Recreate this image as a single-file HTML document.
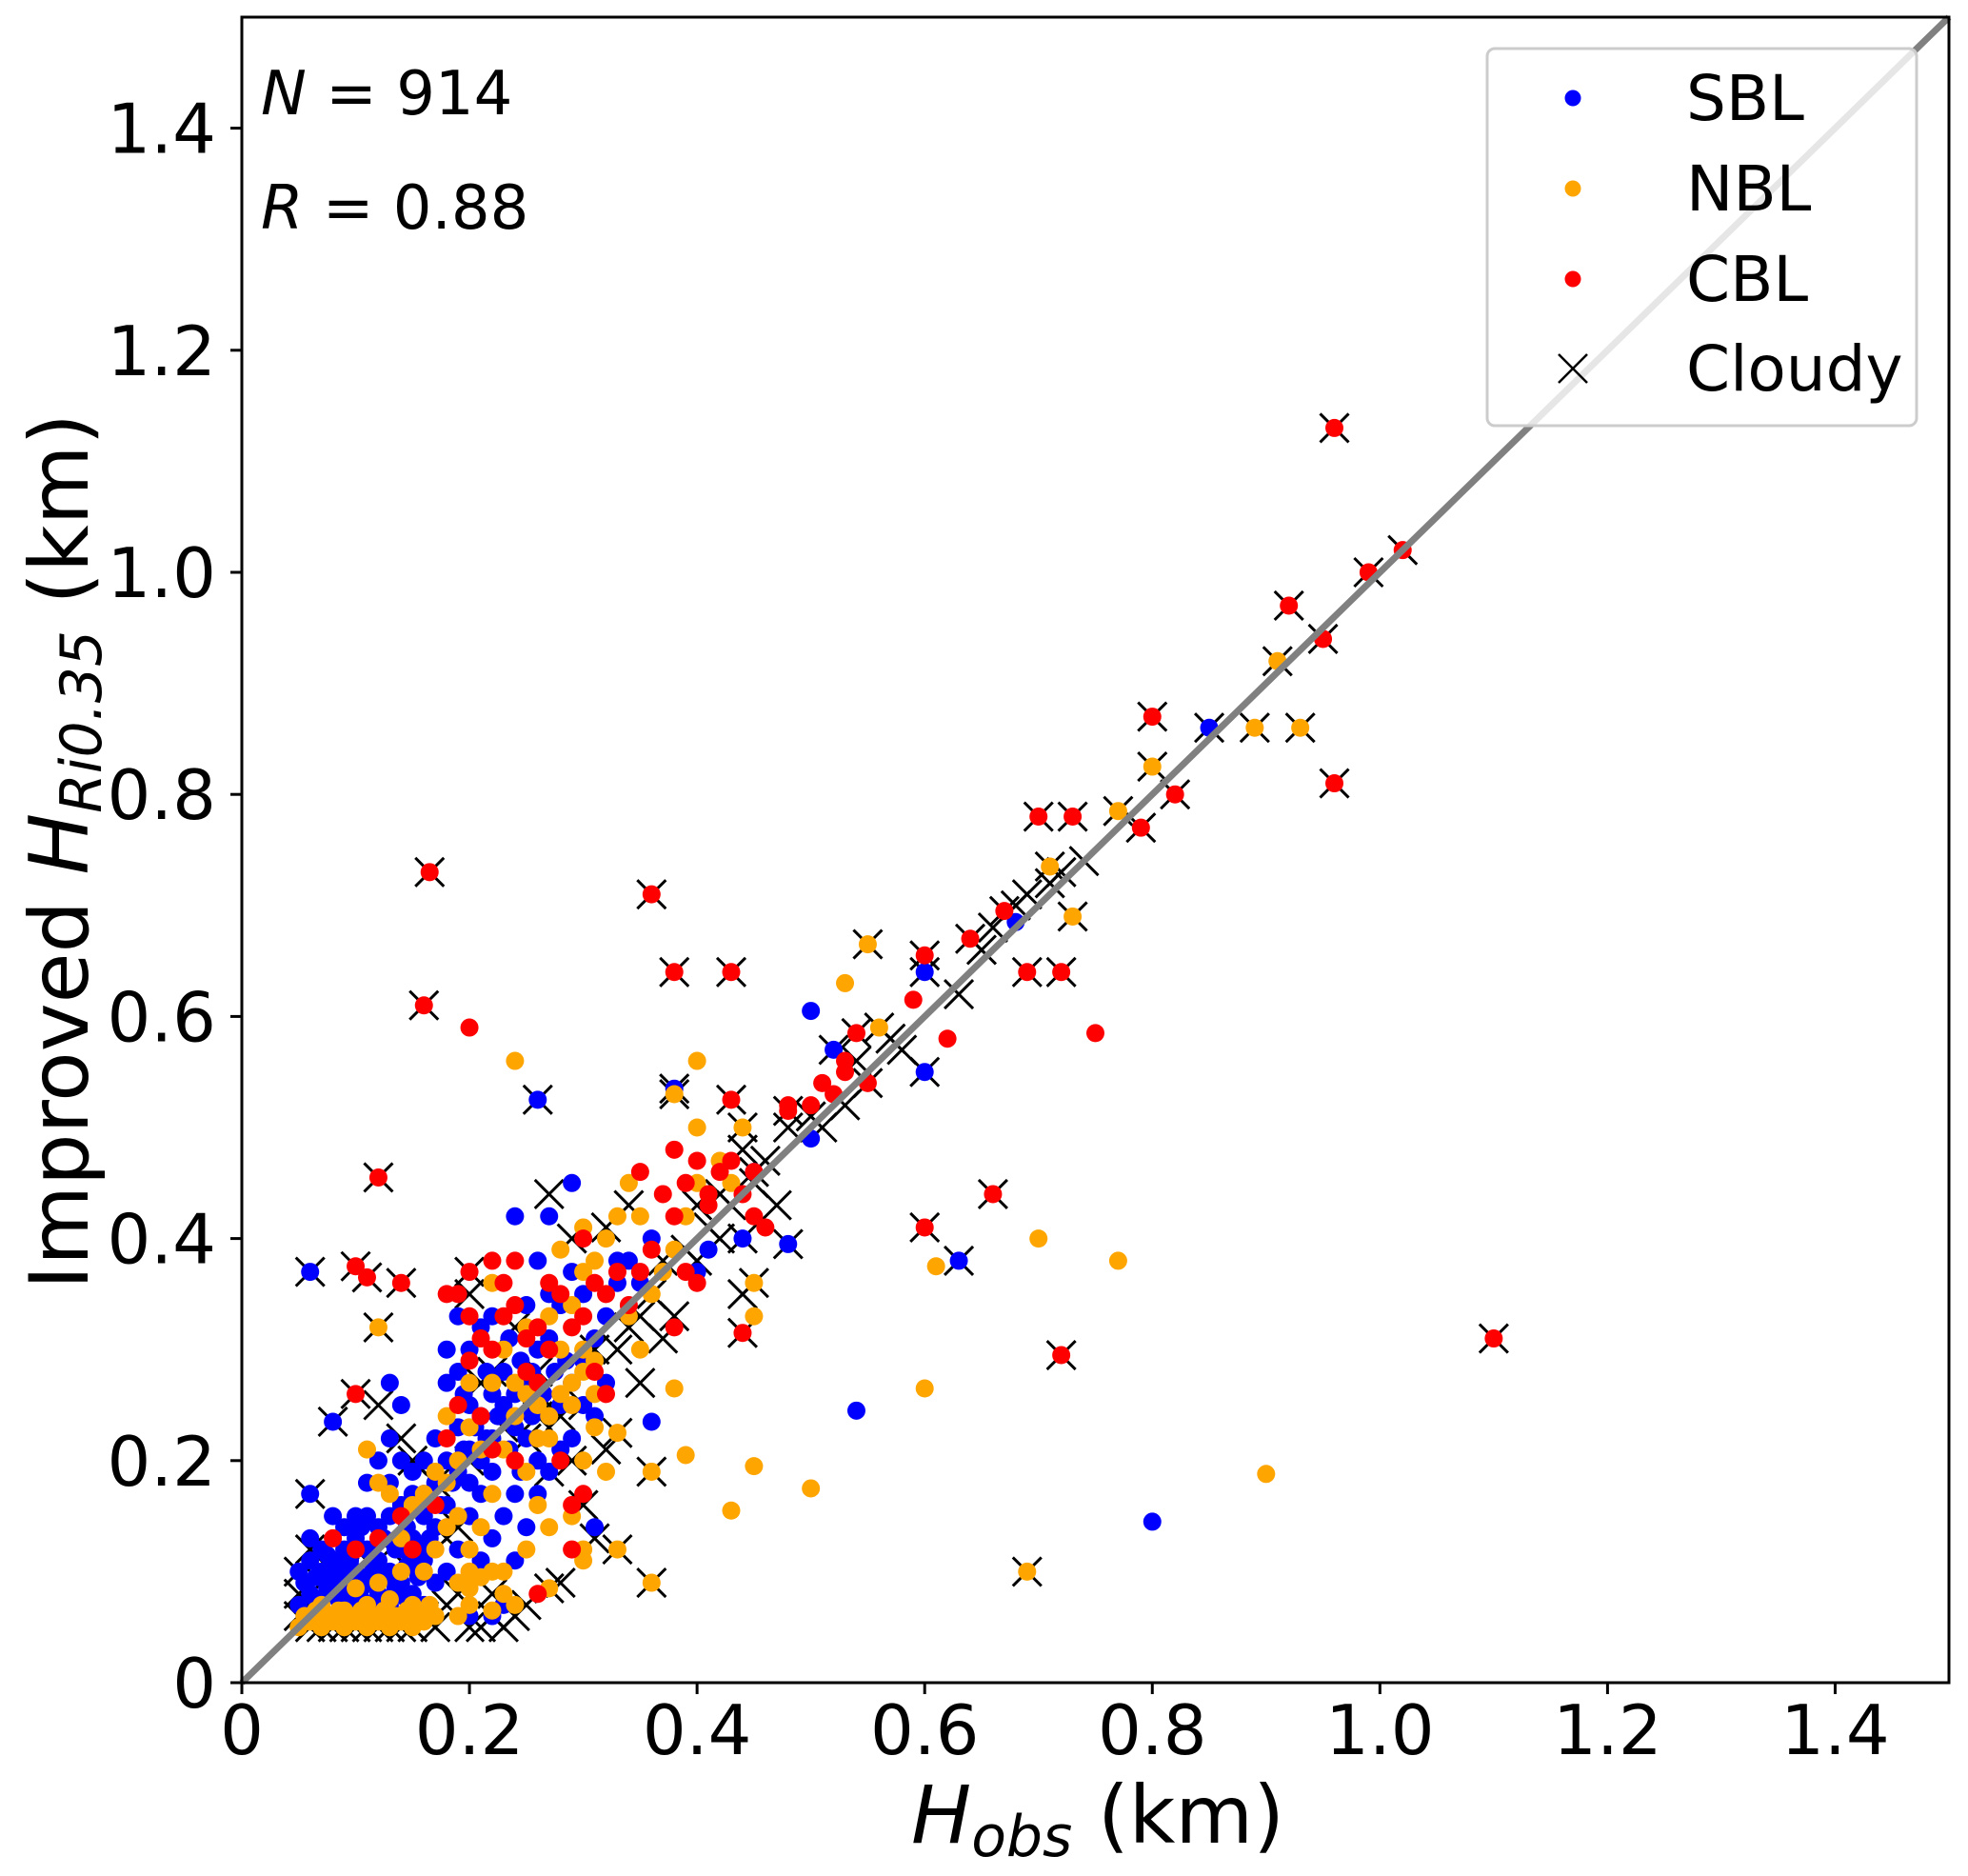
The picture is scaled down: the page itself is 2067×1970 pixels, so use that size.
<!DOCTYPE html>
<html><head><meta charset="utf-8"><style>
html,body{margin:0;padding:0;background:#fff}
svg{display:block}
text{font-family:"DejaVu Sans","Liberation Sans",sans-serif;fill:#000}
</style></head><body>
<svg id="chart" width="2067" height="1970" viewBox="0 0 2067 1970" xmlns="http://www.w3.org/2000/svg">
<rect x="0" y="0" width="2067" height="1970" fill="#fff"/>
<g id="cloudyLayer"></g>
<g id="dotLayer"></g>
<line id="oneToOne" stroke="#808080" stroke-width="7"/>
<rect x="254" y="18" width="1793" height="1749" fill="none" stroke="#000" stroke-width="3"/>
<g id="ticks"></g>
<text x="274" y="120" font-size="64"><tspan font-style="italic">N</tspan> = 914</text>
<text x="274" y="240" font-size="64"><tspan font-style="italic">R</tspan> = 0.88</text>
<text x="1153" y="1935" font-size="84" text-anchor="middle"><tspan font-style="italic">H</tspan><tspan font-style="italic" font-size="60" dy="14">obs</tspan><tspan dy="-14"> (km)</tspan></text>
<text transform="translate(92,894) rotate(-90)" font-size="86" text-anchor="middle">Improved <tspan font-style="italic">H</tspan><tspan font-style="italic" font-size="60" dy="14">Ri0.35</tspan><tspan dy="-14"> (km)</tspan></text>
<g>
<rect x="1562" y="51" width="451" height="396" rx="8" fill="#fff" fill-opacity="0.8" stroke="#ccc" stroke-width="3"/>
<circle cx="1652" cy="103" r="8.5" fill="#0000ff"/>
<text x="1771" y="126" font-size="66">SBL</text>
<circle cx="1652" cy="198" r="8.5" fill="#ffa500"/>
<text x="1771" y="221" font-size="66">NBL</text>
<circle cx="1652" cy="293" r="8.5" fill="#ff0000"/>
<text x="1771" y="316" font-size="66">CBL</text>
<path d="M1637,372 L1667,402 M1637,402 L1667,372" stroke="#000" stroke-width="2.5"/>
<text x="1771" y="410" font-size="66">Cloudy</text>
</g>
</svg>
<script>
const xTicks = [0,0.2,0.4,0.6,0.8,1.0,1.2,1.4];
const xTickLabels = ["0","0.2","0.4","0.6","0.8","1.0","1.2","1.4"];
const yTicks = [0,0.2,0.4,0.6,0.8,1.0,1.2,1.4];
const yTickLabels = ["0","0.2","0.4","0.6","0.8","1.0","1.2","1.4"];
const sblPoints = [[0.06,0.37],[0.06,0.17],[0.08,0.235],[0.26,0.525],[0.38,0.535],[0.5,0.605],[0.52,0.57],[0.6,0.64],[0.6,0.55],[0.85,0.86],[0.63,0.38],[0.48,0.395],[0.45,0.46],[0.44,0.4],[0.41,0.39],[0.4,0.37],[0.54,0.245],[0.8,0.145],[0.36,0.235],[0.31,0.14],[0.5,0.49],[0.68,0.685],[0.24,0.42],[0.29,0.45],[0.13,0.27],
[0.05,0.1],[0.06,0.11],[0.07,0.1],[0.08,0.09],[0.06,0.08],[0.07,0.07],[0.09,0.08],[0.1,0.1],[0.11,0.09],[0.12,0.08],[0.05,0.07],[0.08,0.11],[0.09,0.12],[0.1,0.13],[0.11,0.12],[0.12,0.11],[0.13,0.1],[0.14,0.09],[0.15,0.08],[0.16,0.07],[0.13,0.07],[0.14,0.12],[0.15,0.11],[0.12,0.14],[0.11,0.15],[0.13,0.15],[0.1,0.15],[0.09,0.14],[0.14,0.16],[0.15,0.17],[0.16,0.15],[0.17,0.14],[0.18,0.16],[0.17,0.18],[0.18,0.2],[0.19,0.19],[0.2,0.21],[0.19,0.23],[0.2,0.25],[0.21,0.24],[0.22,0.22],[0.21,0.2],[0.2,0.18],[0.22,0.26],[0.23,0.25],[0.24,0.23],[0.25,0.22],[0.23,0.28],[0.18,0.27],[0.19,0.28],[0.2,0.3],[0.21,0.32],[0.22,0.33],[0.26,0.3],[0.27,0.31],[0.25,0.34],[0.27,0.35],[0.28,0.25],[0.29,0.27],[0.3,0.29],[0.31,0.31],[0.32,0.33],[0.33,0.36],[0.34,0.38],[0.29,0.22],[0.26,0.2],[0.24,0.17],[0.23,0.15],[0.22,0.13],[0.21,0.11],[0.2,0.09],[0.22,0.06],[0.23,0.07],[0.2,0.06],[0.19,0.12],[0.18,0.1],[0.17,0.09],[0.16,0.11],[0.15,0.13],[0.24,0.11],[0.25,0.14],[0.26,0.17],[0.27,0.19],[0.28,0.21],[0.3,0.25],[0.31,0.24],[0.32,0.27],[0.17,0.22],[0.16,0.2],[0.15,0.19],[0.14,0.2],[0.13,0.22],[0.14,0.25],[0.12,0.2],[0.11,0.18],[0.18,0.3],[0.19,0.33],[0.26,0.38],[0.27,0.42],[0.33,0.38],[0.35,0.36],[0.36,0.4],[0.07,0.12],[0.06,0.13],[0.08,0.15],[0.2,0.15],[0.21,0.17],[0.22,0.19],[0.25,0.27],[0.24,0.26],[0.28,0.34],[0.29,0.37],[0.3,0.35],[0.09,0.06],[0.1,0.07],[0.11,0.06],[0.12,0.06],[0.16,0.17],[0.13,0.18],
[0.055,0.09],[0.065,0.095],[0.075,0.085],[0.085,0.1],[0.095,0.095],[0.105,0.085],[0.115,0.1],[0.125,0.095],[0.135,0.085],[0.145,0.105],[0.155,0.095],[0.065,0.075],[0.085,0.075],[0.105,0.075],[0.125,0.07],[0.145,0.075],[0.075,0.115],[0.095,0.11],[0.115,0.115],[0.135,0.12],[0.155,0.12],[0.105,0.14],[0.125,0.13],[0.145,0.14],[0.165,0.13],[0.175,0.16],[0.185,0.18],[0.195,0.21],[0.205,0.23],[0.215,0.22],[0.225,0.24],[0.235,0.21],[0.245,0.19],[0.255,0.24],[0.265,0.26],[0.275,0.28],[0.285,0.29],[0.215,0.28],[0.195,0.26],[0.235,0.31],[0.245,0.29],[0.255,0.28]];
const nblPoints = [[0.24,0.56],[0.4,0.56],[0.53,0.63],[0.55,0.665],[0.56,0.59],[0.73,0.69],[0.77,0.785],[0.71,0.735],[0.8,0.825],[0.89,0.86],[0.93,0.86],[0.91,0.92],[0.7,0.4],[0.77,0.38],[0.61,0.375],[0.6,0.265],[0.38,0.265],[0.39,0.205],[0.45,0.195],[0.5,0.175],[0.43,0.155],[0.9,0.188],[0.69,0.1],[0.36,0.09],[0.33,0.12],[0.45,0.36],[0.45,0.33],[0.4,0.5],[0.38,0.53],[0.44,0.5],[0.36,0.19],[0.33,0.225],[0.12,0.32],[0.27,0.085],[0.3,0.12],[0.3,0.11],
[0.05,0.05],[0.06,0.055],[0.07,0.05],[0.08,0.055],[0.09,0.05],[0.1,0.055],[0.11,0.05],[0.12,0.055],[0.13,0.05],[0.14,0.055],[0.15,0.05],[0.16,0.055],[0.17,0.06],[0.07,0.07],[0.09,0.065],[0.11,0.07],[0.13,0.075],[0.15,0.07],[0.12,0.09],[0.1,0.085],[0.14,0.1],[0.16,0.1],[0.17,0.12],[0.18,0.14],[0.19,0.15],[0.16,0.17],[0.15,0.16],[0.13,0.17],[0.17,0.19],[0.18,0.18],[0.2,0.1],[0.2,0.07],[0.19,0.06],[0.22,0.1],[0.22,0.065],[0.23,0.08],[0.24,0.07],[0.23,0.21],[0.24,0.24],[0.25,0.26],[0.26,0.25],[0.27,0.22],[0.28,0.26],[0.29,0.27],[0.3,0.28],[0.31,0.26],[0.3,0.3],[0.28,0.3],[0.27,0.33],[0.29,0.34],[0.3,0.37],[0.31,0.38],[0.32,0.4],[0.33,0.42],[0.34,0.45],[0.28,0.39],[0.3,0.41],[0.22,0.36],[0.25,0.32],[0.25,0.19],[0.26,0.16],[0.27,0.14],[0.25,0.12],[0.22,0.17],[0.21,0.21],[0.2,0.23],[0.19,0.2],[0.18,0.24],[0.2,0.27],[0.11,0.21],[0.12,0.18],[0.14,0.13],[0.29,0.15],[0.32,0.19],[0.3,0.2],[0.31,0.23],[0.35,0.3],[0.34,0.33],[0.36,0.35],[0.37,0.37],[0.38,0.39],[0.39,0.42],[0.4,0.45],[0.41,0.44],[0.42,0.47],[0.43,0.45],[0.35,0.42],[0.22,0.27],[0.23,0.3],[0.2,0.12],[0.19,0.09],[0.21,0.14],
[0.055,0.06],[0.075,0.06],[0.095,0.06],[0.115,0.06],[0.135,0.06],[0.155,0.06],[0.065,0.065],[0.085,0.065],[0.105,0.065],[0.125,0.065],[0.145,0.065],[0.165,0.07],[0.2,0.085],[0.21,0.095],[0.23,0.1],[0.26,0.22],[0.27,0.24],[0.29,0.25],[0.31,0.29],[0.24,0.27]];
const cblPoints = [[0.165,0.73],[0.16,0.61],[0.36,0.71],[0.38,0.64],[0.43,0.64],[0.96,1.13],[1.02,1.02],[0.99,1.0],[0.92,0.97],[0.95,0.94],[0.8,0.87],[0.96,0.81],[0.82,0.8],[0.79,0.77],[0.7,0.78],[0.73,0.78],[0.69,0.64],[0.72,0.64],[0.6,0.655],[0.6,0.41],[0.66,0.44],[0.72,0.295],[1.1,0.31],[0.12,0.455],[0.1,0.375],[0.14,0.36],[0.11,0.365],[0.2,0.37],[0.43,0.525],[0.44,0.315],[0.67,0.695],[0.64,0.67],[0.54,0.585],[0.55,0.54],[0.48,0.515],[0.1,0.26],[0.2,0.59],[0.75,0.585],[0.62,0.58],[0.59,0.615],[0.53,0.56],[0.38,0.32],
[0.1,0.12],[0.12,0.13],[0.08,0.13],[0.17,0.16],[0.18,0.22],[0.19,0.25],[0.2,0.29],[0.21,0.31],[0.22,0.3],[0.23,0.33],[0.24,0.34],[0.25,0.31],[0.26,0.32],[0.27,0.36],[0.28,0.35],[0.29,0.32],[0.3,0.33],[0.31,0.36],[0.32,0.35],[0.33,0.37],[0.34,0.34],[0.35,0.37],[0.36,0.39],[0.37,0.44],[0.38,0.42],[0.39,0.45],[0.4,0.47],[0.41,0.43],[0.42,0.46],[0.43,0.47],[0.44,0.44],[0.45,0.42],[0.46,0.41],[0.39,0.37],[0.4,0.36],[0.41,0.44],[0.35,0.46],[0.38,0.48],[0.21,0.24],[0.22,0.21],[0.24,0.2],[0.25,0.28],[0.26,0.27],[0.28,0.2],[0.3,0.17],[0.29,0.12],[0.29,0.16],[0.26,0.08],[0.2,0.33],[0.19,0.35],[0.15,0.12],[0.14,0.15],[0.24,0.38],[0.23,0.36],[0.18,0.35],[0.32,0.26],[0.31,0.28],[0.27,0.3],[0.3,0.4],[0.22,0.38],[0.48,0.52],[0.5,0.52],[0.52,0.53],[0.53,0.55],[0.51,0.54],[0.45,0.46]];
const cloudyPoints = [[0.06,0.37],[0.06,0.17],[0.08,0.235],[0.26,0.525],[0.38,0.535],[0.52,0.57],[0.6,0.64],[0.6,0.55],[0.85,0.86],[0.63,0.38],[0.48,0.395],[0.45,0.46],[0.44,0.4],
[0.55,0.665],[0.56,0.59],[0.73,0.69],[0.77,0.785],[0.71,0.735],[0.8,0.825],[0.89,0.86],[0.93,0.86],[0.91,0.92],[0.69,0.1],[0.36,0.09],[0.33,0.12],[0.45,0.36],[0.38,0.53],[0.44,0.5],[0.36,0.19],[0.33,0.225],[0.12,0.32],[0.27,0.085],
[0.165,0.73],[0.16,0.61],[0.36,0.71],[0.38,0.64],[0.43,0.64],[0.96,1.13],[1.02,1.02],[0.99,1.0],[0.92,0.97],[0.95,0.94],[0.8,0.87],[0.96,0.81],[0.82,0.8],[0.79,0.77],[0.7,0.78],[0.73,0.78],[0.69,0.64],[0.72,0.64],[0.6,0.655],[0.6,0.41],[0.66,0.44],[0.72,0.295],[1.1,0.31],[0.12,0.455],[0.1,0.375],[0.14,0.36],[0.11,0.365],[0.2,0.37],[0.43,0.525],[0.44,0.315],[0.67,0.695],[0.64,0.67],[0.54,0.585],[0.55,0.54],[0.48,0.515],[0.1,0.26],
[0.05,0.06],[0.06,0.05],[0.07,0.05],[0.08,0.05],[0.09,0.05],[0.1,0.05],[0.11,0.05],[0.12,0.05],[0.13,0.05],[0.14,0.05],[0.15,0.05],[0.05,0.08],[0.05,0.1],[0.06,0.12],[0.16,0.06],[0.17,0.05],[0.2,0.05],[0.21,0.05],[0.22,0.06],[0.23,0.05],[0.24,0.06],[0.22,0.08],[0.18,0.13],[0.19,0.14],[0.12,0.25],[0.14,0.22],[0.15,0.2],[0.21,0.27],[0.22,0.28],[0.25,0.22],[0.26,0.24],[0.28,0.24],[0.29,0.2],[0.27,0.19],[0.3,0.16],[0.3,0.25],[0.32,0.21],[0.33,0.3],[0.34,0.32],[0.35,0.33],[0.36,0.35],[0.37,0.38],[0.39,0.39],[0.4,0.43],[0.41,0.41],[0.42,0.44],[0.43,0.43],[0.45,0.45],[0.46,0.47],[0.44,0.48],[0.32,0.41],[0.34,0.43],[0.27,0.44],[0.29,0.4],[0.24,0.32],[0.2,0.35],[0.31,0.3],[0.31,0.13],[0.28,0.09],[0.25,0.07],[0.18,0.07],[0.19,0.08],[0.26,0.28],[0.23,0.23],[0.2,0.2],[0.17,0.18],[0.13,0.12],[0.11,0.11],[0.09,0.1],[0.07,0.09],[0.35,0.27],[0.37,0.31],[0.38,0.33],[0.5,0.51],[0.51,0.5],[0.53,0.52],[0.54,0.56],[0.57,0.58],[0.58,0.57],[0.63,0.62],[0.65,0.66],[0.66,0.68],[0.68,0.7],[0.69,0.71],[0.71,0.72],[0.72,0.73],[0.74,0.74],[0.42,0.4],[0.47,0.43],[0.48,0.5],[0.44,0.35],[0.4,0.38]];
const axisMax = 1.5;

const NS = "http://www.w3.org/2000/svg";
const X0 = 254, X1 = 2047, Y0 = 1767, Y1 = 18;
function xScale(v){ return X0 + v / axisMax * (X1 - X0); }
function yScale(v){ return Y0 - v / axisMax * (Y0 - Y1); }
function mk(tag, attrs){ const e = document.createElementNS(NS, tag); for (const k in attrs) e.setAttribute(k, attrs[k]); return e; }

const cl = document.getElementById('cloudyLayer');
cloudyPoints.forEach(p => {
  const x = xScale(p[0]), y = yScale(p[1]), s = 15;
  const el = mk('path', {d:`M${x-s},${y-s}L${x+s},${y+s}M${x-s},${y+s}L${x+s},${y-s}`, stroke:'#000', 'stroke-width':3, fill:'none'});
  
  
  cl.appendChild(el);
});
const dl = document.getElementById('dotLayer');
function drawDots(points, color, name){
  points.forEach(p => {
    const el = mk('circle', {cx:xScale(p[0]), cy:yScale(p[1]), r:9.5, fill:color});
    
    
    dl.appendChild(el);
  });
}
drawDots(sblPoints, '#0000ff', 'sbl-point');
drawDots(nblPoints, '#ffa500', 'nbl-point');
drawDots(cblPoints, '#ff0000', 'cbl-point');

const ln = document.getElementById('oneToOne');
ln.setAttribute('x1', xScale(0)); ln.setAttribute('y1', yScale(0));
ln.setAttribute('x2', xScale(axisMax)); ln.setAttribute('y2', yScale(axisMax));

const tg = document.getElementById('ticks');
xTicks.forEach((v, i) => {
  const x = xScale(v);
  const t = mk('line', {x1:x, x2:x, y1:Y0, y2:Y0+12, stroke:'#000', 'stroke-width':3});
  
  
  tg.appendChild(t);
  const lb = mk('text', {x:x, y:1842, 'font-size':72, 'text-anchor':'middle'});
  lb.textContent = xTickLabels[i];
  
  
  tg.appendChild(lb);
});
yTicks.forEach((v, i) => {
  const y = yScale(v);
  const t = mk('line', {x1:X0-12, x2:X0, y1:y, y2:y, stroke:'#000', 'stroke-width':3});
  
  
  tg.appendChild(t);
  const lb = mk('text', {x:227, y:y+26, 'font-size':72, 'text-anchor':'end'});
  lb.textContent = yTickLabels[i];
  
  
  tg.appendChild(lb);
});
</script>
</body></html>
